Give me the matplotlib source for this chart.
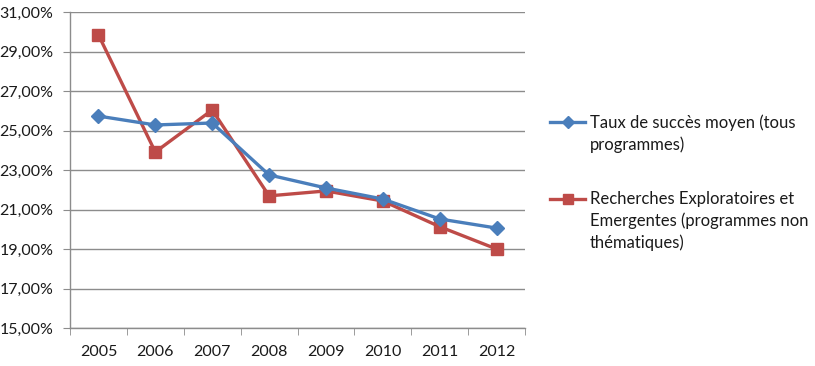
import matplotlib
matplotlib.use("Agg")
import matplotlib.pyplot as plt
from matplotlib.ticker import FuncFormatter, FixedLocator

years = ["2005", "2006", "2007", "2008", "2009", "2010", "2011", "2012"]
taux_moyen = [25.73, 25.28, 25.38, 22.75, 22.09, 21.53, 20.52, 20.06]
rech_explo = [29.84, 23.91, 26.04, 21.69, 21.94, 21.43, 20.13, 19.00]
labels = [["Taux de succès moyen (tous", "programmes)"],
          ["Recherches Exploratoires et", "Emergentes (programmes non", "thématiques)"]]

plt.rcParams['font.family'] = ['Lato', 'DejaVu Sans']

fig = plt.figure(figsize=(8.15, 3.66), dpi=100)
ax = fig.add_axes([70/815, 1-328/366, 455/815, 316/366])

x = list(range(len(years)))
blue = "#4A7EBB"
red = "#BE4B48"
l1, = ax.plot(x, taux_moyen, color=blue, lw=2.4, marker="D", ms=7.5, zorder=4)
l2, = ax.plot(x, rech_explo, color=red, lw=2.4, marker="s", ms=9, zorder=3)

ax.set_xlim(-0.5, len(years)-0.5)
ax.set_ylim(15, 31)
ax.set_yticks(range(15, 32, 2))
ax.yaxis.set_major_formatter(FuncFormatter(lambda v, p: f"{v:.2f}".replace(".", ",") + "%"))
ax.yaxis.grid(True, color="#8c8c8c", lw=1)
ax.set_axisbelow(True)

ax.set_xticks(x)
ax.set_xticklabels(years)
ax.xaxis.set_minor_locator(FixedLocator([i - 0.5 for i in range(len(years)+1)]))
ax.tick_params(axis="x", which="major", length=0, pad=12, labelsize=11.5, labelcolor="#1a1a1a")
ax.tick_params(axis="x", which="minor", length=5, color="#8c8c8c", direction="out")
ax.tick_params(axis="y", length=5, color="#8c8c8c", labelsize=11.5, labelcolor="#1a1a1a", pad=7)

for s in ["top", "right"]:
    ax.spines[s].set_visible(False)
for s in ["left", "bottom"]:
    ax.spines[s].set_color("#8c8c8c")
    ax.spines[s].set_linewidth(1)

fs = 12
leg = fig.legend([l1, l2], [lab[0] for lab in labels], loc="upper left",
                 bbox_to_anchor=(550/815, 1-114/366),
                 frameon=False, fontsize=fs, handlelength=2.1, handletextpad=0.3,
                 labelspacing=3.65, markerscale=0.85, borderpad=0, borderaxespad=0)
for t in leg.get_texts():
    t.set_color("#1a1a1a")

fig.canvas.draw()
inv = fig.transFigure.inverted()
pitch = 22 / 366
for t, lab in zip(leg.get_texts(), labels):
    bb = t.get_window_extent()
    x0, y0 = inv.transform((bb.x0, bb.y0))
    for k, line in enumerate(lab[1:], start=1):
        fig.text(x0, y0 - k * pitch, line, fontsize=fs, color="#1a1a1a",
                 ha="left", va="bottom")

fig.savefig("out.png", dpi=100)
